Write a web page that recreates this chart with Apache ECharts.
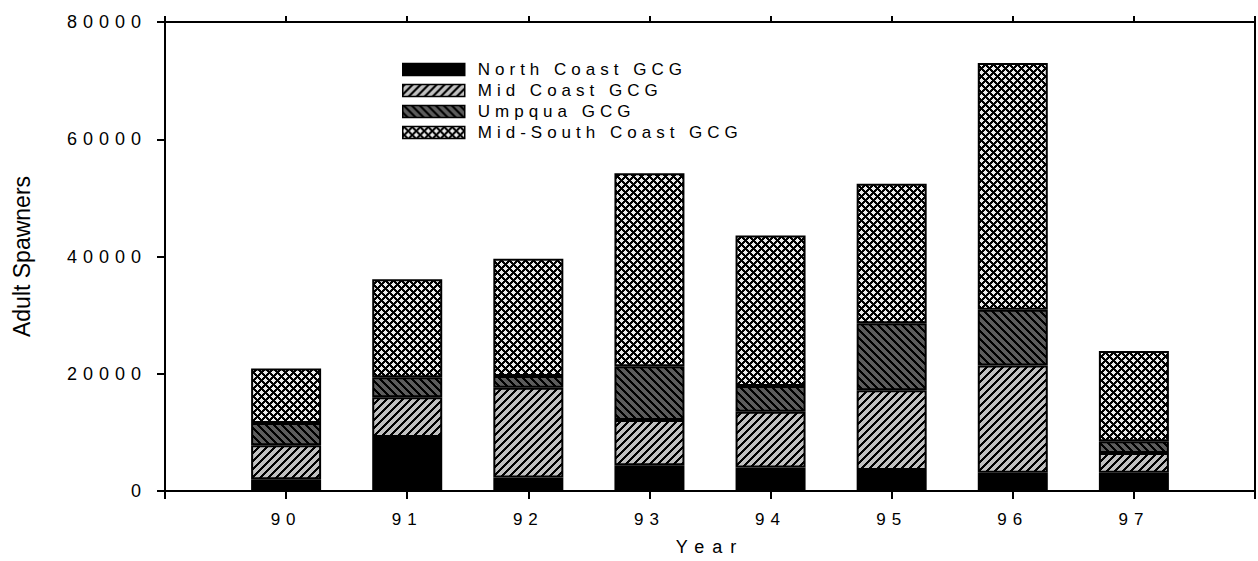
<!DOCTYPE html>
<html>
<head>
<meta charset="utf-8">
<script src="https://cdn.jsdelivr.net/npm/echarts@6/dist/echarts.min.js"></script>
<style>
html,body{margin:0;padding:0;background:#fff;}
#main{width:1258px;height:561px;}
</style>
</head>
<body>
<div id="main"></div>
<script>
// ---- data ----
const years = ['90', '91', '92', '93', '94', '95', '96', '97'];
const axisPadStart = '89';
const axisPadEnd = '98';
const northCoast    = [2000, 9200, 2300, 4400, 4000, 3600, 3100, 3100];
const midCoast      = [5800, 6800, 15300, 7700, 9500, 13600, 18300, 3400];
const umpqua        = [3800, 3400, 2000, 9200, 4400, 11400, 9500, 2000];
const midSouthCoast = [9300, 16700, 20000, 32900, 25700, 23800, 42100, 15400];
const seriesNames = ['North Coast GCG', 'Mid Coast GCG', 'Umpqua GCG', 'Mid-South Coast GCG'];
const yMin = 0, yMax = 80000, yStep = 20000;

// ---- patterns ----
function makePattern(p, fn) {
  const c = document.createElement('canvas');
  c.width = p; c.height = p;
  const ctx = c.getContext('2d');
  const img = ctx.createImageData(p, p);
  for (let y = 0; y < p; y++) {
    for (let x = 0; x < p; x++) {
      const col = fn(x, y);
      const i = (y * p + x) * 4;
      img.data[i] = col[0]; img.data[i + 1] = col[1]; img.data[i + 2] = col[2]; img.data[i + 3] = 255;
    }
  }
  ctx.putImageData(img, 0, 0);
  return { image: c, repeat: 'repeat', imageWidth: p, imageHeight: p };
}
const BLACK = [0, 0, 0];
const mod = (a, n) => ((a % n) + n) % n;
const midPattern = makePattern(8, (x, y) => mod(x + y, 8) < 3 ? BLACK : [192, 192, 192]);
const umpPattern = makePattern(8, (x, y) => mod(x - y, 8) < 3 ? BLACK : [92, 92, 92]);
const msPattern = makePattern(8, (x, y) => (mod(x + y, 8) < 3 || mod(x - y, 8) < 3) ? BLACK : [236, 236, 236]);

const FONT = '"Liberation Sans", Arial, sans-serif';
const axisCats = [axisPadStart].concat(years, [axisPadEnd]);
const pad = arr => ['-'].concat(arr, ['-']);

const seriesColors = ['#000000', midPattern, umpPattern, msPattern];
const seriesData = [northCoast, midCoast, umpqua, midSouthCoast];

const chart = echarts.init(document.getElementById('main'), null, { renderer: 'svg' });
const option = {
  animation: false,
  backgroundColor: '#ffffff',
  grid: { left: 165, right: 2, top: 22, bottom: 69, show: true, borderColor: '#000', borderWidth: 2, backgroundColor: 'transparent' },
  legend: {
    orient: 'vertical', left: 402, top: 61, padding: 0,
    itemWidth: 62, itemHeight: 12, itemGap: 4, icon: 'rect',
    itemStyle: { borderColor: '#000', borderWidth: 1.5 },
    textStyle: { fontSize: 17, fontFamily: FONT, color: '#000', padding: [0, 0, 0, 8] },
    data: seriesNames
  },
  xAxis: [
    {
      type: 'category', data: axisCats, boundaryGap: false, position: 'bottom',
      axisLine: { lineStyle: { color: '#000', width: 2 } },
      axisTick: { interval: 0, length: 8, lineStyle: { color: '#000', width: 2 } },
      axisLabel: {
        interval: 0, fontSize: 17, fontFamily: FONT, color: '#000', margin: 20,
        formatter: (v, i) => (i === 0 || i === axisCats.length - 1) ? '' : v
      },
      splitLine: { show: false },
      name: 'Year', nameLocation: 'middle', nameGap: 47, nameMoveOverlap: false,
      nameTextStyle: { fontSize: 18, fontFamily: FONT, color: '#000' }
    },
    {
      type: 'category', data: axisCats, boundaryGap: false, position: 'top',
      axisLine: { lineStyle: { color: '#000', width: 2 } },
      axisTick: { interval: 0, length: 6, lineStyle: { color: '#000', width: 2 } },
      axisLabel: { show: false },
      splitLine: { show: false }
    }
  ],
  yAxis: [{
    type: 'value', min: yMin, max: yMax, interval: yStep,
    axisLine: { show: true, lineStyle: { color: '#000', width: 2 } },
    axisTick: { show: true, length: 8, lineStyle: { color: '#000', width: 2 } },
    axisLabel: { fontSize: 18, fontFamily: FONT, color: '#000', margin: 18, formatter: v => String(v) },
    splitLine: { show: false },
    name: 'Adult Spawners', nameLocation: 'middle', nameGap: 132, nameRotate: 90,
    nameTextStyle: { fontSize: 23, fontFamily: FONT, color: '#000' }
  }],
  series: seriesNames.map((name, k) => ({
    type: 'bar', name: name, stack: 'total', barWidth: 70,
    xAxisIndex: 0, yAxisIndex: 0,
    data: pad(seriesData[k]),
    itemStyle: { color: seriesColors[k], borderColor: '#000', borderWidth: 2 },
    emphasis: { disabled: true }
  }))
};
chart.setOption(option);

function applySpacing() {
  document.querySelectorAll('#main text').forEach(t => {
    const s = t.textContent;
    if (s === 'Adult Spawners') t.style.letterSpacing = '0px';
    else if (s === 'Year') t.style.letterSpacing = '8px';
    else if (seriesNames.indexOf(s) >= 0) t.style.letterSpacing = '5px';
    else t.style.letterSpacing = '6px';
  });
}
chart.on('finished', applySpacing);
applySpacing();
setTimeout(applySpacing, 0);
</script>
</body>
</html>
